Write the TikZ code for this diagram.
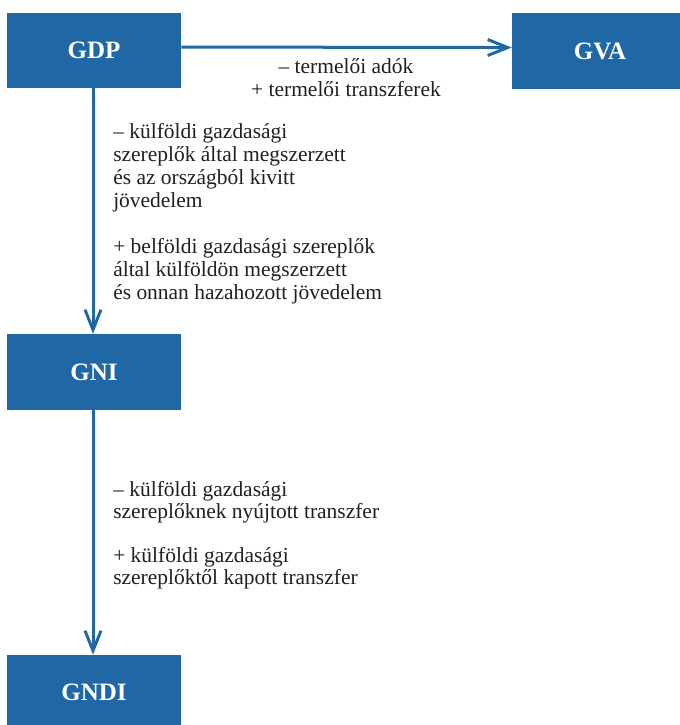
\documentclass[tikz,border=0pt]{standalone}
\usepackage{fontspec}
\setmainfont{Liberation Serif}
\usetikzlibrary{arrows.meta}
\definecolor{boxblue}{HTML}{1F67A5}
\definecolor{txtgray}{HTML}{231F20}
\tikzset{
  box/.style={fill=boxblue, draw=none, inner sep=0pt, text=white,
    font=\fontsize{18.75}{20}\selectfont\bfseries},
  conn/.style={draw=boxblue, line width=2.25pt, -{Straight Barb[length=15pt,width=12pt]}},
  note/.style={inner sep=0pt, text=txtgray, font=\fontsize{16.1}{16.6}\selectfont}
}
\begin{document}
\begin{tikzpicture}[x=0.75pt,y=-0.75pt]
\clip (0,0) rectangle (680,725);
\fill[white] (0,0) rectangle (680,725);
\node[box, minimum width=130.5pt, minimum height=56.25pt] (GDP) at (94,50.5) {GDP};
\node[box, minimum width=132pt, minimum height=57pt] (GVA) at (600,51) {GVA};
\node[box, minimum width=130.5pt, minimum height=57pt] (GNI) at (94,372) {GNI};
\node[box, minimum width=130.5pt, minimum height=56.25pt] (GNDI) at (94,692.5) {GNDI};
\draw[conn] ([yshift=2.6pt]GDP.east) -- ([yshift=2.6pt]GVA.west);
\draw[conn] ([xshift=-0.75pt]GDP.south) -- ([xshift=-0.75pt]GNI.north);
\draw[conn] ([xshift=-0.75pt]GNI.south) -- ([xshift=-0.75pt]GNDI.north);
\node[note, align=center, anchor=base] (lab1) at (346,96)
  {– termelői adók\\+ termelői transzferek};
\node[note, align=left, anchor=base west, font=\fontsize{16.1}{17.25}\selectfont] (lab2) at (113,299)
  {– külföldi gazdasági\\szereplők által megszerzett\\és az országból kivitt\\jövedelem\\[17.25pt]%
   + belföldi gazdasági szereplők\\által külföldön megszerzett\\és onnan hazahozott jövedelem};
\node[note, align=left, anchor=base west] (lab3) at (113,584.7)
  {– külföldi gazdasági\\szereplőknek nyújtott transzfer\\[16.6pt]%
   + külföldi gazdasági\\szereplőktől kapott transzfer};
\end{tikzpicture}
\end{document}
